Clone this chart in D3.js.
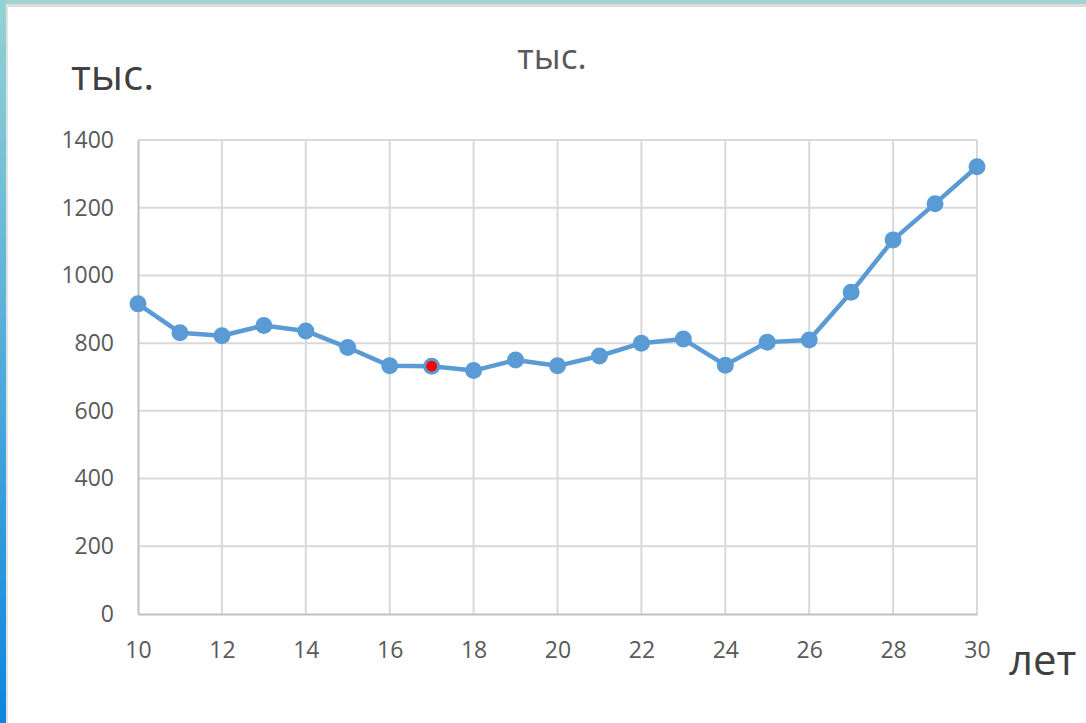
<!DOCTYPE html>
<html>
<head>
<meta charset="utf-8">
<script src="https://cdn.jsdelivr.net/npm/d3@7"></script>
<style>
  body { margin: 0; background: #fff; }
  svg { display: block; font-family: "Open Sans", "Noto Sans", sans-serif; }
</style>
</head>
<body>
<svg width="1086" height="723"></svg>
<script>
var ages = [10, 11, 12, 13, 14, 15, 16, 17, 18, 19, 20, 21, 22, 23, 24, 25, 26, 27, 28, 29, 30];
var values = [916, 831, 822, 852, 836, 787, 733, 732, 719, 750, 733, 762, 800, 812, 735, 803, 809, 950, 1105, 1212, 1321];
var highlightAge = 17;
var xTicks = [10, 12, 14, 16, 18, 20, 22, 24, 26, 28, 30];
var yTicks = [0, 200, 400, 600, 800, 1000, 1200, 1400];

var svg = d3.select("svg"),
    width = +svg.attr("width"),
    height = +svg.attr("height");

var margin = {left: 138, right: 109, top: 140, bottom: 109};

// slide frame
var defs = svg.append("defs");
var grad = defs.append("linearGradient")
    .attr("id", "side")
    .attr("x1", 0).attr("y1", 0).attr("x2", 0).attr("y2", 1);
grad.append("stop").attr("offset", "0%").attr("stop-color", "#95d2d4");
grad.append("stop").attr("offset", "100%").attr("stop-color", "#0d86e0");

svg.append("rect").attr("x", 0).attr("y", 0).attr("width", width).attr("height", 4).attr("fill", "#a2d5d2");
svg.append("rect").attr("x", 0).attr("y", 4).attr("width", width).attr("height", 3).attr("fill", "#dcdcdc");
svg.append("rect").attr("x", 0).attr("y", 0).attr("width", 6).attr("height", height).attr("fill", "url(#side)");
svg.append("rect").attr("x", 6).attr("y", 4).attr("width", 2).attr("height", height).attr("fill", "#e2e2e2");

var x = d3.scaleLinear()
    .domain([10, 30])
    .range([margin.left, width - margin.right]);

var y = d3.scaleLinear()
    .domain([0, 1400])
    .range([height - margin.bottom, margin.top]);

// grid
svg.append("g")
    .selectAll("line")
    .data(xTicks.slice(1))
    .join("line")
    .attr("x1", d => x(d)).attr("x2", d => x(d))
    .attr("y1", y(0)).attr("y2", y(1400))
    .attr("stroke", "#d9d9d9")
    .attr("stroke-width", 2);

svg.append("g")
    .selectAll("line")
    .data(yTicks.slice(1))
    .join("line")
    .attr("x1", x(10)).attr("x2", x(30))
    .attr("y1", d => y(d)).attr("y2", d => y(d))
    .attr("stroke", "#d9d9d9")
    .attr("stroke-width", 2);

// axes
var xAxis = svg.append("g")
    .attr("transform", "translate(0," + y(0) + ")")
    .call(d3.axisBottom(x).tickValues(xTicks).tickSize(0).tickPadding(28).tickFormat(d3.format("d")));
var yAxis = svg.append("g")
    .attr("transform", "translate(" + x(10) + ",0)")
    .call(d3.axisLeft(y).tickValues(yTicks).tickSize(0).tickPadding(24).tickFormat(d3.format("d")));

[xAxis, yAxis].forEach(function(a) {
    a.select(".domain").attr("stroke", "#bfbfbf").attr("stroke-width", 2);
    a.selectAll("text")
        .attr("fill", "#595959")
        .style("font-size", "23px")
        .style("font-family", "'Open Sans', 'Noto Sans', sans-serif");
});

// series
var line = d3.line()
    .x((d, i) => x(ages[i]))
    .y(d => y(d));

svg.append("path")
    .datum(values)
    .attr("d", line)
    .attr("fill", "none")
    .attr("stroke", "#5b9bd5")
    .attr("stroke-width", 4.5)
    .attr("stroke-linejoin", "round");

svg.append("g")
    .selectAll("circle")
    .data(values)
    .join("circle")
    .attr("cx", (d, i) => x(ages[i]))
    .attr("cy", d => y(d))
    .attr("r", 8.5)
    .attr("fill", "#5b9bd5");

svg.append("circle")
    .attr("cx", x(highlightAge))
    .attr("cy", y(values[ages.indexOf(highlightAge)]))
    .attr("r", 5.5)
    .attr("fill", "#ff0000");

// labels
svg.append("text")
    .attr("x", 552).attr("y", 69)
    .attr("text-anchor", "middle")
    .attr("fill", "#595959")
    .style("font-size", "35px")
    .text("тыс.");

svg.append("text")
    .attr("x", 71).attr("y", 90)
    .attr("fill", "#404040")
    .style("font-size", "42px")
    .text("тыс.");

svg.append("text")
    .attr("x", 1009).attr("y", 675)
    .attr("fill", "#404040")
    .style("font-size", "42px")
    .text("лет");
</script>
</body>
</html>
